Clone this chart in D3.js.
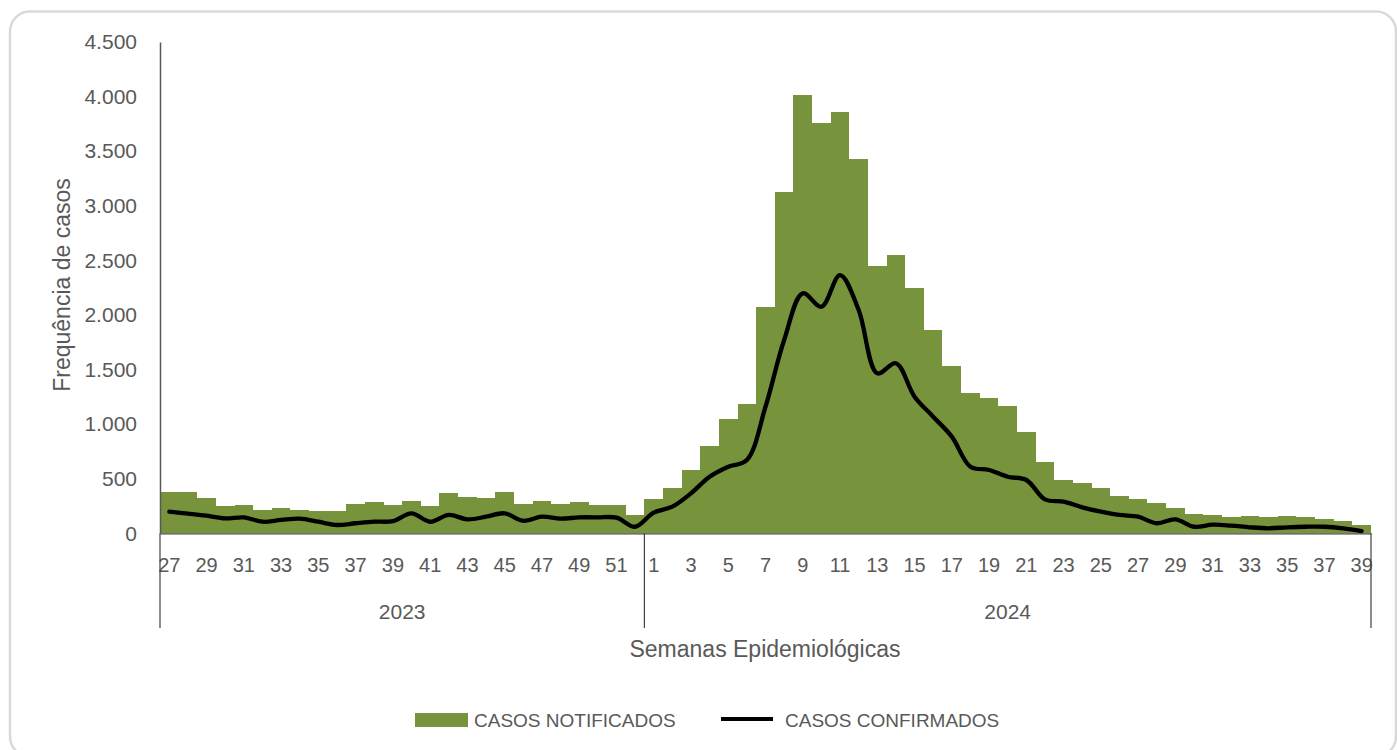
<!DOCTYPE html>
<html>
<head>
<meta charset="utf-8">
<script src="https://cdn.jsdelivr.net/npm/d3@7"></script>
<style>
  body { margin: 0; background: #fff; }
  text { font-family: "Liberation Sans", Arial, sans-serif; fill: #595959; }
</style>
</head>
<body>
<div id="chart"></div>
<script>
var weeks2023 = [27, 28, 29, 30, 31, 32, 33, 34, 35, 36, 37, 38, 39, 40, 41, 42, 43, 44, 45, 46, 47, 48, 49, 50, 51, 52];
var weeks2024 = [1, 2, 3, 4, 5, 6, 7, 8, 9, 10, 11, 12, 13, 14, 15, 16, 17, 18, 19, 20,
  21, 22, 23, 24, 25, 26, 27, 28, 29, 30, 31, 32, 33, 34, 35, 36, 37, 38, 39];

var notificados2023 = [378, 378, 320, 247, 262, 216, 232, 216, 201, 201, 271, 284, 262, 299, 247, 366, 332, 320, 378, 271, 299, 271, 284, 262, 262, 168];
var notificados2024 = [311, 415, 580, 800, 1047, 1181, 2069, 3126, 4016, 3760, 3855, 3430, 2448, 2551, 2243, 1862, 1532, 1282, 1236, 1166,
  930, 653, 488, 461, 412, 344, 311, 275, 229, 180, 165, 147, 156, 147, 156, 147, 134, 115, 79];

var confirmados2023 = [198, 180, 161, 137, 146, 106, 122, 134, 106, 76, 92, 106, 112, 183, 106, 168, 128, 152, 183, 115, 152, 134, 146, 146, 143, 60];
var confirmados2024 = [190, 244, 366, 518, 610, 671, 1159, 1770, 2198, 2075, 2365, 2045, 1465, 1557, 1251, 1068, 885, 610, 580, 518,
  488, 311, 290, 238, 198, 168, 152, 92, 128, 60, 79, 70, 55, 46, 55, 60, 60, 46, 21];

var yTicks = [0, 500, 1000, 1500, 2000, 2500, 3000, 3500, 4000, 4500];
var years = ["2023", "2024"];

var width = 1397, height = 750;
var margin = {top: 42, right: 26, bottom: 217, left: 160};

// one row per week
var data = [];
weeks2023.forEach(function (w, i) {
  data.push({key: "2023-" + w, week: w, year: "2023", notif: notificados2023[i], conf: confirmados2023[i]});
});
weeks2024.forEach(function (w, i) {
  data.push({key: "2024-" + w, week: w, year: "2024", notif: notificados2024[i], conf: confirmados2024[i]});
});

var svg = d3.select("#chart")
  .append("svg")
  .attr("width", width)
  .attr("height", height);

svg.append("rect")
  .attr("x", 10).attr("y", 11.5)
  .attr("width", 1386).attr("height", 745)
  .attr("rx", 20)
  .attr("fill", "#fff")
  .attr("stroke", "#d9d9d9")
  .attr("stroke-width", 2.5);

var x = d3.scaleBand()
  .domain(data.map(function (d) { return d.key; }))
  .range([margin.left, width - margin.right])
  .padding(0);

var y = d3.scaleLinear()
  .domain([0, 4500])
  .range([height - margin.bottom + 0.3, margin.top]);

var locale = d3.formatLocale({decimal: ",", thousands: ".", grouping: [3], currency: ["R$", ""]});
var fmt = locale.format(",");

// bars (crisp edges so neighbours join without seams)
svg.append("g")
  .attr("shape-rendering", "crispEdges")
  .selectAll("rect")
  .data(data)
  .enter().append("rect")
  .attr("x", function (d) { return Math.round(x(d.key)); })
  .attr("y", function (d) { return y(d.notif); })
  .attr("width", function (d) { return Math.round(x(d.key) + x.bandwidth()) - Math.round(x(d.key)); })
  .attr("height", function (d) { return y(0) - y(d.notif); })
  .attr("fill", "#77933c");

// smoothed line
var line = d3.line()
  .curve(d3.curveCatmullRom.alpha(0.5))
  .x(function (d) { return x(d.key) + x.bandwidth() / 2; })
  .y(function (d) { return y(d.conf); });

svg.append("path")
  .datum(data)
  .attr("fill", "none")
  .attr("stroke", "#000")
  .attr("stroke-width", 4.3)
  .attr("stroke-linejoin", "round")
  .attr("stroke-linecap", "round")
  .attr("d", line);

// y axis
var yAxis = svg.append("g")
  .attr("transform", "translate(" + margin.left + ",0)")
  .call(d3.axisLeft(y).tickValues(yTicks).tickSize(0).tickPadding(23).tickFormat(fmt));
yAxis.select(".domain").attr("stroke", "#595959").attr("stroke-width", 1.5);
yAxis.selectAll("text").style("font-size", "21px").attr("fill", "#595959");

// x axis with week labels (every other week)
var xAxis = svg.append("g")
  .attr("transform", "translate(0," + y(0) + ")")
  .call(d3.axisBottom(x)
    .tickValues(data.filter(function (d, i) { return i % 2 === 0; }).map(function (d) { return d.key; }))
    .tickSize(0).tickPadding(25)
    .tickFormat(function (k) { return k.split("-")[1]; }));
xAxis.select(".domain").attr("stroke", "#404040").attr("stroke-width", 1.2);
xAxis.selectAll("text").style("font-size", "20px").attr("fill", "#595959");

// year group separators and labels
var firstKey = data[0].key, splitKey = "2024-1", lastKey = data[data.length - 1].key;
var seps = [x(firstKey), x(splitKey), x(lastKey) + x.bandwidth()];
svg.append("g")
  .selectAll("line")
  .data(seps)
  .enter().append("line")
  .attr("x1", function (d) { return d; })
  .attr("x2", function (d) { return d; })
  .attr("y1", y(0))
  .attr("y2", 628)
  .attr("stroke", "#404040")
  .attr("stroke-width", 1.2);

svg.append("g")
  .selectAll("text")
  .data(years)
  .enter().append("text")
  .attr("x", function (d, i) { return (seps[i] + seps[i + 1]) / 2; })
  .attr("y", 612)
  .attr("dy", "0.35em")
  .attr("text-anchor", "middle")
  .style("font-size", "21px")
  .text(function (d) { return d; });

// axis titles
svg.append("text")
  .attr("x", 765)
  .attr("y", 649)
  .attr("dy", "0.35em")
  .attr("text-anchor", "middle")
  .style("font-size", "23px")
  .text("Semanas Epidemiológicas");

svg.append("text")
  .attr("transform", "translate(62,285) rotate(-90)")
  .attr("dy", "0.35em")
  .attr("text-anchor", "middle")
  .style("font-size", "23px")
  .text("Frequência de casos");

// legend
var legend = svg.append("g");
legend.append("rect")
  .attr("x", 415).attr("y", 713)
  .attr("width", 53).attr("height", 14)
  .attr("fill", "#77933c");
legend.append("text")
  .attr("x", 474).attr("y", 720).attr("dy", "0.35em")
  .style("font-size", "19px")
  .text("CASOS NOTIFICADOS");
legend.append("line")
  .attr("x1", 721).attr("x2", 773)
  .attr("y1", 719).attr("y2", 719)
  .attr("stroke", "#000").attr("stroke-width", 4);
legend.append("text")
  .attr("x", 785).attr("y", 720).attr("dy", "0.35em")
  .style("font-size", "19px")
  .text("CASOS CONFIRMADOS");
</script>
</body>
</html>
